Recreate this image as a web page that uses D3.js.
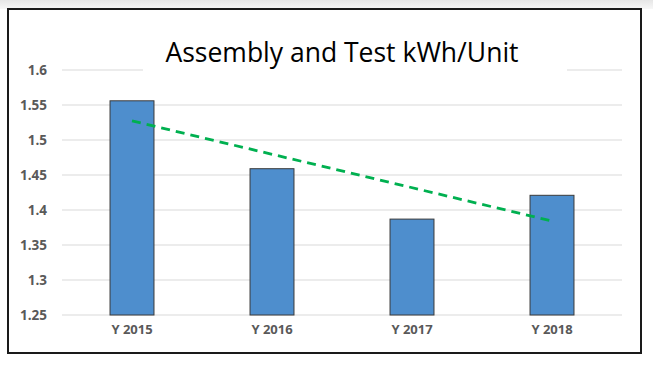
<!DOCTYPE html>
<html>
<head>
<meta charset="utf-8">
<script src="https://cdn.jsdelivr.net/npm/d3@7"></script>
<style>
  html, body { margin: 0; padding: 0; background: #fff; }
  svg { display: block; }
</style>
</head>
<body>
<svg id="chart" width="653" height="369"></svg>
<script>
const categories = ["Y 2015", "Y 2016", "Y 2017", "Y 2018"];
const values = [1.556, 1.459, 1.387, 1.421];
const yTicks = [1.25, 1.3, 1.35, 1.4, 1.45, 1.5, 1.55, 1.6];
const tickLabels = ["1.25", "1.3", "1.35", "1.4", "1.45", "1.5", "1.55", "1.6"];
const title = "Assembly and Test kWh/Unit";

const W = 653, H = 369;
const svg = d3.select("#chart");

// top shading
const defs = svg.append("defs");
const grad = defs.append("linearGradient").attr("id", "topfade").attr("x1", 0).attr("x2", 0).attr("y1", 0).attr("y2", 1);
grad.append("stop").attr("offset", "0%").attr("stop-color", "#e6e6e6");
grad.append("stop").attr("offset", "100%").attr("stop-color", "#f7f7f7");
svg.append("rect").attr("x", 0).attr("y", 0).attr("width", W).attr("height", 9).attr("fill", "url(#topfade)");

// chart frame
svg.append("rect").attr("x", 8).attr("y", 9).attr("width", 633).attr("height", 344)
  .attr("fill", "#fff").attr("stroke", "#1a1a1a").attr("stroke-width", 2);

const plot = { left: 62, right: 622, top: 70, bottom: 315 };

const x = d3.scaleBand().domain(categories).range([plot.left, plot.right])
  .paddingInner(0.686).paddingOuter(0.343);
const y = d3.scaleLinear().domain([1.25, 1.6]).range([plot.bottom, plot.top]);

// gridlines
svg.append("g").selectAll("line").data(yTicks).join("line")
  .attr("x1", plot.left).attr("x2", plot.right)
  .attr("y1", d => y(d)).attr("y2", d => y(d))
  .attr("stroke", "#d9d9d9").attr("stroke-width", 1.2);

// y axis labels
const yAxis = d3.axisLeft(y).tickValues(yTicks).tickSize(0).tickPadding(0)
  .tickFormat((d, i) => tickLabels[i]);
const gy = svg.append("g").attr("transform", `translate(${47},0)`).call(yAxis);
gy.select(".domain").remove();
gy.selectAll("text").attr("font-family", "'Open Sans', sans-serif").attr("font-weight", "bold")
  .attr("font-size", 13.5).attr("fill", "#595959");

// x axis labels
const xAxis = d3.axisBottom(x).tickSize(0).tickPadding(0);
const gx = svg.append("g").attr("transform", `translate(0,${plot.bottom + 10})`).call(xAxis);
gx.select(".domain").remove();
gx.selectAll("text").attr("font-family", "'Open Sans', sans-serif").attr("font-weight", "bold")
  .attr("font-size", 13).attr("fill", "#595959");

// bars
svg.append("g").selectAll("rect").data(values).join("rect")
  .attr("x", (d, i) => x(categories[i]))
  .attr("y", d => y(d))
  .attr("width", x.bandwidth())
  .attr("height", d => y(1.25) - y(d))
  .attr("fill", "#4e8ecd").attr("stroke", "#3a3a3a").attr("stroke-width", 1);

// linear trendline (least squares on the bar values)
const n = values.length;
const xs = values.map((d, i) => i + 1);
const mx = d3.mean(xs), my = d3.mean(values);
const slope = d3.sum(xs.map((xi, i) => (xi - mx) * (values[i] - my))) / d3.sum(xs.map(xi => (xi - mx) ** 2));
const icpt = my - slope * mx;
const trend = [1, n].map(t => [x(categories[t - 1]) + x.bandwidth() / 2, y(icpt + slope * t)]);
svg.append("path").attr("d", d3.line()(trend))
  .attr("fill", "none").attr("stroke", "#00b050").attr("stroke-width", 2.8)
  .attr("stroke-dasharray", "9,6");

// title
svg.append("rect").attr("x", 143).attr("y", 30).attr("width", 424).attr("height", 44).attr("fill", "#fff");
svg.append("text").attr("x", (plot.left + plot.right) / 2).attr("y", 62)
  .attr("text-anchor", "middle")
  .attr("font-family", "'Open Sans', sans-serif").attr("font-size", 26.5).attr("fill", "#000")
  .text(title);
</script>
</body>
</html>
